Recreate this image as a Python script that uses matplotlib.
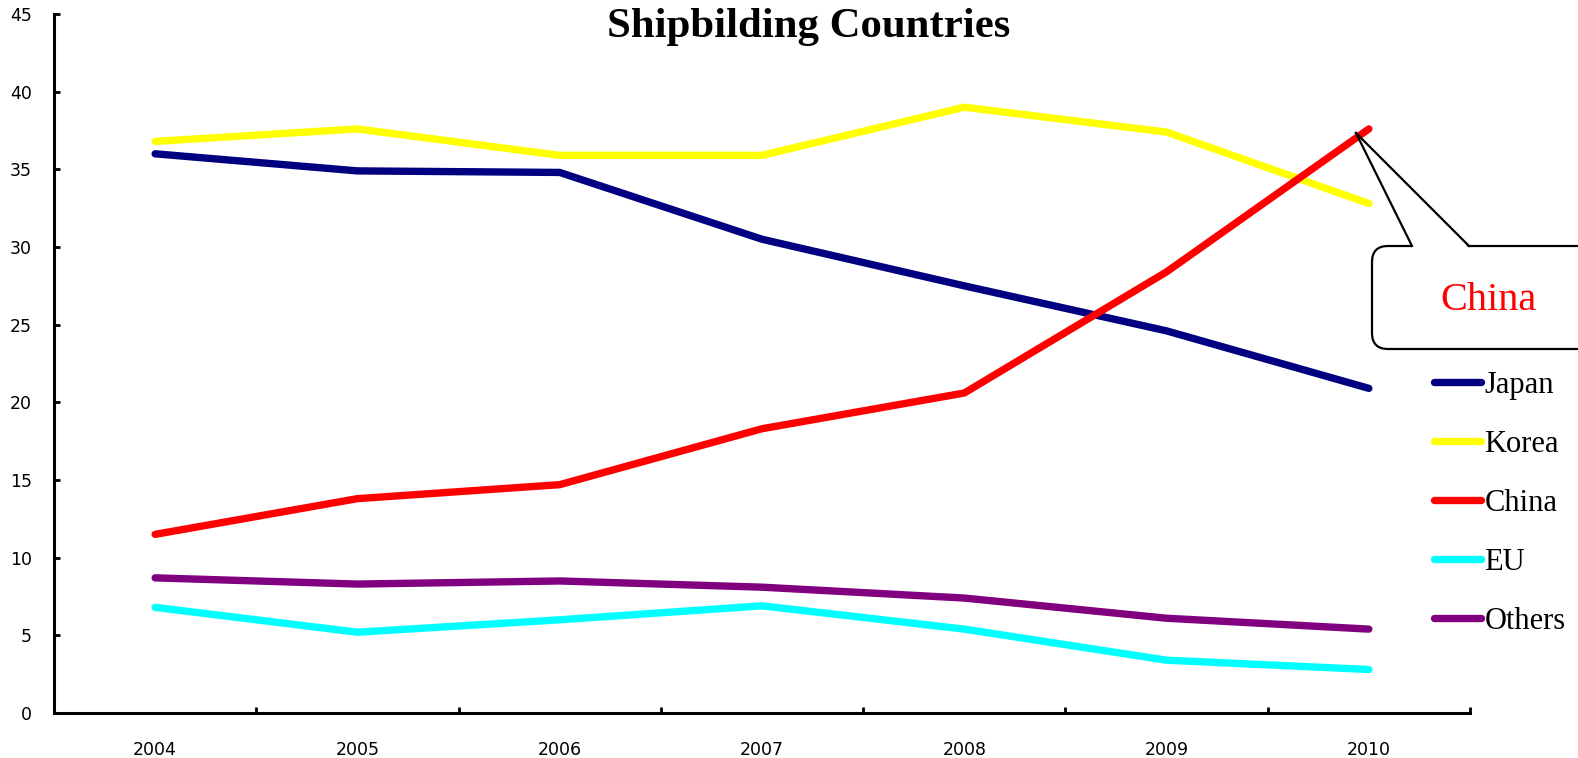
import matplotlib.pyplot as plt
import matplotlib.transforms as mtransforms
from matplotlib.patches import FancyBboxPatch, Polygon
from matplotlib.lines import Line2D

W, H = 1578, 758

years = [2004, 2005, 2006, 2007, 2008, 2009, 2010]
japan = [36.0, 34.9, 34.8, 30.5, 27.5, 24.6, 20.9]
korea = [36.8, 37.6, 35.9, 35.9, 39.0, 37.4, 32.8]
china = [11.5, 13.8, 14.7, 18.3, 20.6, 28.4, 37.6]
eu = [6.8, 5.2, 6.0, 6.9, 5.4, 3.4, 2.8]
others = [8.7, 8.3, 8.5, 8.1, 7.4, 6.1, 5.4]

series = [("Japan", japan, "#000080"),
          ("Korea", korea, "#FFFF00"),
          ("China", china, "#FF0000"),
          ("EU", eu, "#00FFFF"),
          ("Others", others, "#800080")]

fig = plt.figure(figsize=(W / 100, H / 100), dpi=100)
ax = fig.add_axes([54 / W, 1 - 713 / H, (1470 - 54) / W, (713 - 14) / H])

for name, vals, col in series:
    ax.plot(years, vals, color=col, lw=5.3, solid_capstyle="round",
            solid_joinstyle="round", label=name)

ax.set_xlim(2003.5, 2010.5)
ax.set_ylim(0, 45)
ax.set_yticks(range(0, 46, 5))
ax.set_xticks(years)
ax.set_xticks([y + 0.5 for y in years], minor=True)
ax.tick_params(axis="x", which="major", length=0, pad=20, labelsize=12.5)
ax.tick_params(axis="x", which="minor", direction="in", length=4, width=2)
ax.tick_params(axis="y", direction="in", length=4, width=2, pad=16, labelsize=12.5)
for s in ["top", "right"]:
    ax.spines[s].set_visible(False)
for s in ["left", "bottom"]:
    ax.spines[s].set_linewidth(2.2)

fig.text(809 / W, 1 - 27 / H, "Shipbilding Countries", ha="center", va="center",
         family="Liberation Serif", weight="bold", fontsize=30.8)

leg = fig.legend(loc="upper left", bbox_to_anchor=(1434 / W, 1 - 371 / H),
                 frameon=False, prop={"family": "Liberation Serif", "size": 22},
                 handlelength=1.55, handletextpad=0.1, labelspacing=0.98,
                 borderpad=0, borderaxespad=0)

# callout (pixel coordinates, y measured from the top)
pix = mtransforms.Affine2D().scale(1, -1).translate(0, H)
box = FancyBboxPatch((1372, 246), 300, 103,
                     boxstyle="round,pad=0,rounding_size=16",
                     transform=pix, facecolor="white", edgecolor="black", lw=1.6)
fig.add_artist(box)
tri = Polygon([(1412, 248), (1356, 133), (1469, 248)], closed=True,
              transform=pix, facecolor="white", edgecolor="none")
fig.add_artist(tri)
for bx in [1412, 1469]:
    fig.add_artist(Line2D([1356, bx], [133, 246], transform=pix,
                          color="black", lw=1.6))
fig.text(1488 / W, 1 - 300 / H, "China", ha="center", va="center", color="red",
         family="Liberation Serif", fontsize=29)

plt.savefig("out.png", dpi=100)
